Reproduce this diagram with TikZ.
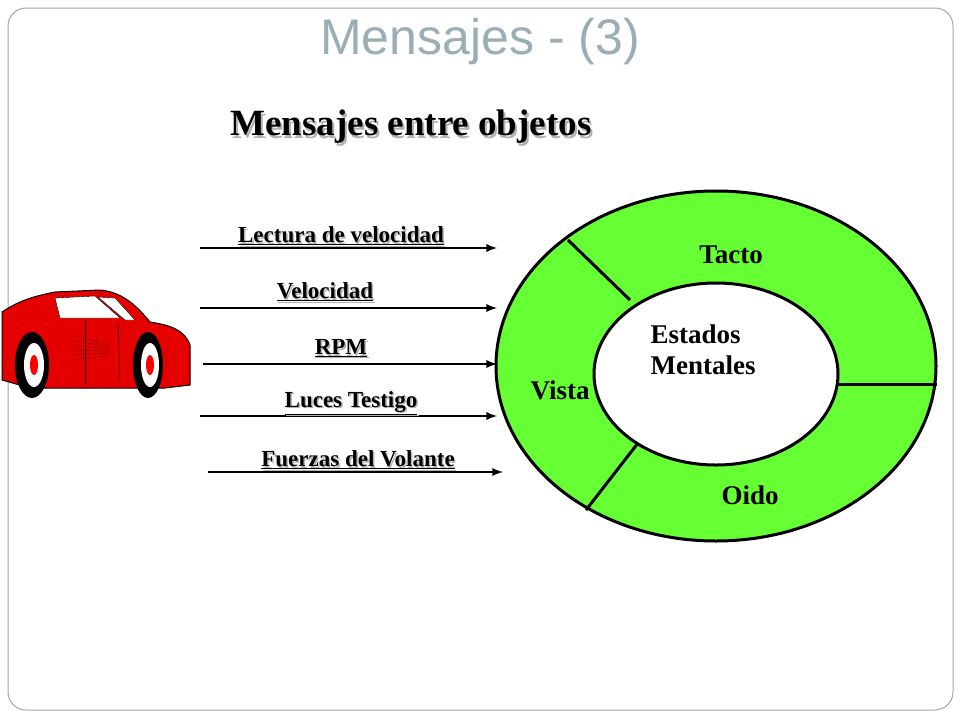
\documentclass[tikz,border=0pt]{standalone}
\usepackage{fontspec}
\setmainfont{Liberation Serif}
\newfontfamily\titlefont{Liberation Sans}
\begin{document}
\begin{tikzpicture}[x=1pt,y=-1pt,
  lbl/.style={font=\bfseries\fontsize{23}{25}\selectfont},
  arr/.style={line width=2.6pt,-latex},
  divl/.style={line width=3pt},
  ring/.style={font=\bfseries\fontsize{27}{31}\selectfont}]
\useasboundingbox (0,0) rectangle (960,720);
\draw[gray!70,rounded corners=18pt,line width=1pt] (8,8) rectangle (953,710);
\node[text=cyan!20!gray!80, font=\titlefont\fontsize{50}{54}\selectfont] (title) at (480,42) {Mensajes - (3)};
\node[text=gray!60,font=\bfseries\fontsize{37}{40}\selectfont] at (413,130) {Mensajes entre objetos};
\node[font=\bfseries\fontsize{37}{40}\selectfont] (sub) at (411,127) {Mensajes entre objetos};
% ring
\draw[line width=3pt,fill={rgb,255:red,102;green,255;blue,51}] (716,366) ellipse [x radius=220, y radius=175];
\draw[line width=3pt,fill=white] (716,374) ellipse [x radius=122, y radius=91];
\draw[divl] (568,240) -- (630,300);
\draw[divl] (836,384) -- (937,384);
\draw[divl] (638,443) -- (586,510);
\node[ring] (tacto) at (731,255) {Tacto};
\node[ring,anchor=west,align=left] (est) at (647,350) {Estados\\Mentales};
\node[ring] (vista) at (560,390) {Vista};
\node[ring] (oido) at (750,495) {Oido};
% arrows
\coordinate (a1) at (200,248); \coordinate (b1) at (497,248);
\coordinate (a2) at (200,308); \coordinate (b2) at (497,308);
\coordinate (a3) at (203,364); \coordinate (b3) at (497,364);
\coordinate (a4) at (200,416); \coordinate (b4) at (497,416);
\coordinate (a5) at (208,472); \coordinate (b5) at (503,472);
\foreach \i in {1,...,5} \draw[arr] (a\i) -- (b\i);
\foreach \t/\x/\y in {Lectura de velocidad/341/236, Velocidad/325/292, RPM/341/348, Luces Testigo/351/403, Fuerzas del Volante/358/460}{
  \node[lbl,text=gray!60] at (\x+1.5,\y+1.5) {\underline{\t}};
  \node[lbl] at (\x,\y) {\underline{\t}};}
% car
\fill[red!90!black,draw=black,line width=1pt] (2,312) .. controls (20,300) and (35,296) .. (55,292)
  -- (100,290) .. controls (125,292) and (140,310) .. (150,322)
  .. controls (170,325) and (185,330) .. (190,345) -- (190,385) -- (165,388) -- (30,388) -- (2,380) -- cycle;
\fill[white,draw=black] (55,298) -- (95,296) -- (120,318) -- (60,318) -- cycle;
\fill[white,draw=black] (98,297) -- (115,298) -- (135,320) -- (125,320) -- cycle;
\draw[black] (85,320) -- (85,385);
\draw[black] (118,322) -- (120,380);
\foreach \k in {0,...,5} \draw[red!50!black] (72,335+\k*5) -- (110,345+\k*2);
\fill[black] (32,365) ellipse [x radius=17, y radius=33];
\fill[white] (34,365) ellipse [x radius=10, y radius=22];
\fill[red] (34,365) ellipse [x radius=4, y radius=10];
\fill[black] (148,365) ellipse [x radius=15, y radius=33];
\fill[white] (150,365) ellipse [x radius=9, y radius=22];
\fill[red] (150,365) ellipse [x radius=4, y radius=10];
\end{tikzpicture}
\end{document}
